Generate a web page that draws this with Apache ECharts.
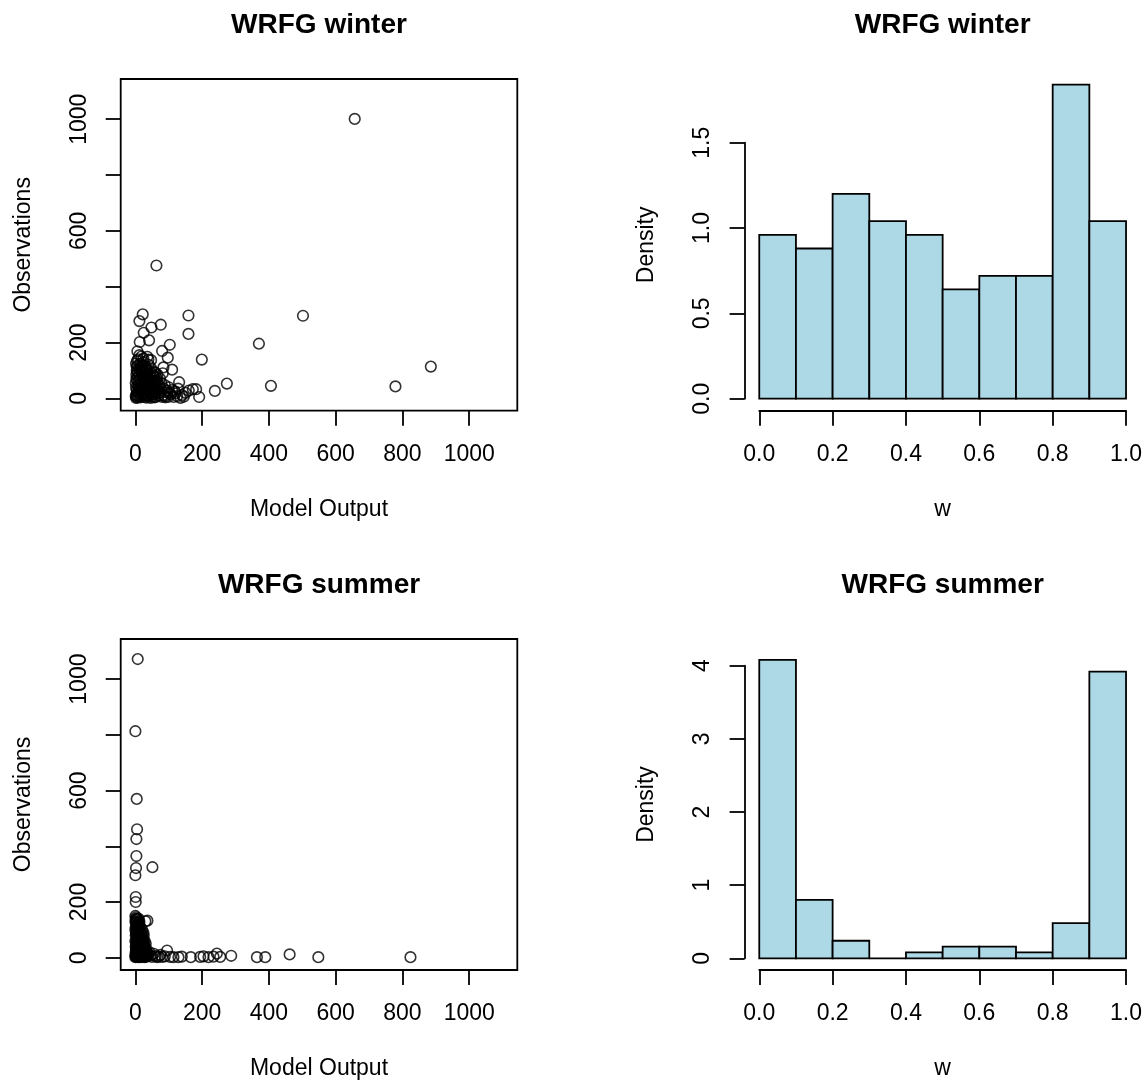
<!DOCTYPE html>
<html>
<head>
<meta charset="utf-8">
<script src="https://cdn.jsdelivr.net/npm/echarts@6/dist/echarts.min.js"></script>
<style>
html,body{margin:0;padding:0;background:#ffffff;}
#c{width:1147px;height:1086px;}
</style>
</head>
<body>
<div id="c"></div>
<script>
// ---------------- DATA ----------------
const winterModel = [657,63,22,159,502,12,76,48,159,25,370,103,41,13,6,80,97,36,47,199,84,110,18,4,885,131,274,406,779,238,172,182,191,24,39,
  150,140,125,118,105,98,135,145,110,92,88,120,160,128,100,
  2,5,8,10,12,15,3,6,9,14,18,20,22,25,27,30,32,35,38,40,42,45,48,50,52,55,58,60,62,65,
  20,28,15,8,25,30,35,45,55,68,70,72,75,78,80,85,4,1,3,16,24,33,44,53,60,66,12,7,2,40,18,10,36,46,57,64,74,82,88,95,11,26,34,49,61,
  1,3,6,9,13,17,21,23,29,31,37,39,43,47,51,54,56,59,63,67,5,8,11,14,19,24,29,34,41,47,2,4,7,16,26,32,44,52,58,69,76,83,90,102,115,5,12,22,31,38];
const winterObs = [1001,476,301,297,296,277,264,254,231,235,196,192,208,202,169,170,146,149,137,139,111,103,118,113,114,58,53,45,43,27,33,33,5,143,139,
  20,12,8,25,15,5,2,6,30,22,8,18,28,35,40,
  2,10,20,35,50,70,85,95,60,28,12,45,80,5,30,60,18,90,40,8,70,25,55,12,85,35,4,48,20,65,
  100,105,125,140,130,115,100,95,78,30,10,45,22,55,5,35,30,55,70,4,15,3,50,62,92,85,110,45,125,120,150,8,75,2,15,40,70,90,48,28,18,62,28,38,5,
  8,15,3,25,40,55,20,38,10,48,12,58,35,80,22,50,95,30,75,55,65,78,88,100,92,72,82,65,85,108,40,100,118,108,50,38,15,5,62,18,35,12,4,20,5,135,155,118,92,25];

const summerModel = [7,0,4,5,3,3,2,0,51,1,1,30,0,36,
  95,104,114,129,139,166,194,204,219,234,244,254,287,364,389,462,548,824,
  88,80,75,70,65,60,55,50,45,42,
  0,1,2,3,4,5,6,7,8,9,10,11,12,13,14,15,1,2,3,4,5,6,7,8,9,2,3,5,20,25,30,35,22,28,18,24,16,20,27,32,12,10,1,2,6,15,18,26,33,38,11,14,17,4,7,10,1,0,21,23,
  3,5,8,12,16,19,13,9,6,0,2,4,29,31,24,
  0,1,2,3,4,5,6,7,8,9,10,11,0,1,2,3,4,12,14,16,18,20,22,24,26,28,30,32,34,13,15,17,19,21,6,8,10,25,27,31];
const summerObs = [1072,813,570,461,426,365,322,296,325,218,200,131,150,133,
  26,3,2,2,4,2,3,5,2,4,15,3,7,2,2,12,2,2,
  5,3,10,4,2,6,14,3,8,20,
  2,5,10,15,20,25,30,35,40,45,50,55,60,65,70,75,80,85,90,95,100,105,110,115,120,125,135,140,5,10,15,20,30,3,45,55,85,100,40,8,130,95,40,60,12,2,18,22,4,12,8,35,60,50,75,120,110,100,75,65,
  3,6,2,4,10,28,50,78,140,60,30,7,28,50,90,
  10,20,35,45,55,65,75,85,95,105,115,125,130,140,145,100,110,20,40,50,70,88,10,30,45,60,8,25,15,95,110,5,38,55,120,130,140,80,2,35];

const binEdges = [0,0.1,0.2,0.3,0.4,0.5,0.6,0.7,0.8,0.9,1.0];
const winterDensity = [0.96,0.88,1.20,1.04,0.96,0.64,0.72,0.72,1.84,1.04];
const summerDensity = [4.08,0.80,0.24,0,0.08,0.16,0.16,0.08,0.48,3.92];

const scatterTicks = [0,200,400,600,800,1000];
const scatterXLabels = [0,200,400,600,800,1000];
const scatterYLabels = [0,200,600,1000];
const scatterLim = [0,1100];

const titles = ['WRFG winter','WRFG winter','WRFG summer','WRFG summer'];

// ---------------- STYLE / LAYOUT ----------------
const FONT = '"Liberation Sans", Arial, Helvetica, sans-serif';
const FS = 23;
const LW = 1.8;
const rows = [{top:79, height:331.7}, {top:639, height:331}];
const SC = {left:120.7, width:396.6};
const HI = {left:744.6, width:396.1};
const HX = {left:759.3, width:366.7};
const HY = [{top:142.7, height:256}, {top:665.7, height:292.6}];
const histYRange = [[-0.0703, 1.873], [-0.16, 4.365]];
const histYTick = [{max:1.5, interval:0.5, dec:1}, {max:4, interval:1, dec:0}];

const pad = 0.04 * (scatterLim[1] - scatterLim[0]);
const sMin = scatterLim[0] - pad, sMax = scatterLim[1] + pad;

const txt = {color:'#000', fontFamily:FONT, fontSize:FS};
const hidden = {show:false};

const grids = [], xAxes = [], yAxes = [], series = [], titleList = [];

rows.forEach((r, i) => {
  const season = i === 0 ? {m:winterModel, o:winterObs, d:winterDensity} : {m:summerModel, o:summerObs, d:summerDensity};
  const gS = grids.length;
  grids.push({left:SC.left, top:r.top, width:SC.width, height:r.height, show:true,
    borderColor:'#000', borderWidth:LW, backgroundColor:'transparent'});
  xAxes.push({type:'value', gridIndex:gS, min:sMin, max:sMax,
    name:'Model Output', nameLocation:'middle', nameGap:87, nameTextStyle:txt,
    axisLine:{show:false, onZero:false},
    axisTick:{show:true, inside:false, length:15, customValues:scatterTicks, lineStyle:{color:'#000', width:LW}},
    axisLabel:{show:true, margin:32.5, customValues:scatterXLabels, formatter:v => String(v), ...txt},
    splitLine:hidden});
  yAxes.push({type:'value', gridIndex:gS, min:sMin, max:sMax,
    name:'Observations', nameLocation:'middle', nameGap:85.5, nameRotate:90, nameTextStyle:txt,
    axisLine:{show:false, onZero:false},
    axisTick:{show:true, inside:false, length:15, customValues:scatterTicks, lineStyle:{color:'#000', width:LW}},
    axisLabel:{show:true, margin:30, rotate:90, customValues:scatterYLabels, formatter:v => String(v), ...txt},
    splitLine:hidden});
  series.push({type:'scatter', xAxisIndex:gS, yAxisIndex:gS, symbol:'circle', symbolSize:10.6,
    itemStyle:{color:'rgba(0,0,0,0)', borderColor:'#000', borderWidth:1.6},
    emphasis:{disabled:true}, silent:true,
    data: season.m.map((v, k) => [v, season.o[k]])});

  const gH = grids.length;
  grids.push({left:HI.left, top:r.top, width:HI.width, height:r.height});
  xAxes.push({type:'value', gridIndex:gH, min:-0.04, max:1.04,
    name:'w', nameLocation:'middle', nameGap:87, nameTextStyle:txt,
    axisLine:{show:false, onZero:false}, axisTick:hidden, axisLabel:hidden, splitLine:hidden});
  yAxes.push({type:'value', gridIndex:gH, min:histYRange[i][0], max:histYRange[i][1],
    name:'Density', nameLocation:'middle', nameGap:86, nameRotate:90, nameTextStyle:txt,
    axisLine:{show:false, onZero:false}, axisTick:hidden, axisLabel:hidden, splitLine:hidden});
  series.push({type:'custom', xAxisIndex:gH, yAxisIndex:gH, silent:true,
    encode:{x:[0,1], y:2},
    data: season.d.map((d, k) => [binEdges[k], binEdges[k+1], d]),
    renderItem: function(params, api){
      const p0 = api.coord([api.value(0), 0]);
      const p1 = api.coord([api.value(1), api.value(2)]);
      return {type:'rect', shape:{x:p0[0], y:p1[1], width:p1[0]-p0[0], height:p0[1]-p1[1]},
        style:{fill:'#ADD8E6', stroke:'#000', lineWidth:LW}};
    }});

  const gX = grids.length;
  grids.push({left:HX.left, top:r.top, width:HX.width, height:r.height});
  xAxes.push({type:'value', gridIndex:gX, min:0, max:1, interval:0.2,
    axisLine:{show:true, onZero:false, lineStyle:{color:'#000', width:LW}},
    axisTick:{show:true, inside:false, length:15, lineStyle:{color:'#000', width:LW}},
    axisLabel:{show:true, margin:32, formatter:v => v.toFixed(1), showMinLabel:true, showMaxLabel:true, ...txt},
    splitLine:hidden});
  yAxes.push({type:'value', gridIndex:gX, min:0, max:1, show:false});

  const gY = grids.length;
  grids.push({left:HI.left, top:HY[i].top, width:HI.width, height:HY[i].height});
  xAxes.push({type:'value', gridIndex:gY, min:0, max:1, show:false});
  yAxes.push({type:'value', gridIndex:gY, min:0, max:histYTick[i].max, interval:histYTick[i].interval,
    axisLine:{show:true, onZero:false, lineStyle:{color:'#000', width:LW}},
    axisTick:{show:true, inside:false, length:15, lineStyle:{color:'#000', width:LW}},
    axisLabel:{show:true, margin:30.5, rotate:90, formatter:(v => v.toFixed(histYTick[i].dec)), showMinLabel:true, showMaxLabel:true, ...txt},
    splitLine:hidden});

  const tTop = r.top - 68;
  titleList.push({text:titles[i*2], left:SC.left + SC.width/2, top:tTop, textAlign:'center', padding:0,
    textStyle:{color:'#000', fontFamily:FONT, fontSize:28, fontWeight:'bold'}});
  titleList.push({text:titles[i*2+1], left:HI.left + HI.width/2, top:tTop, textAlign:'center', padding:0,
    textStyle:{color:'#000', fontFamily:FONT, fontSize:28, fontWeight:'bold'}});
});

const chart = echarts.init(document.getElementById('c'), null, {renderer:'canvas'});
chart.setOption({
  animation:false,
  backgroundColor:'#ffffff',
  title:titleList,
  grid:grids,
  xAxis:xAxes,
  yAxis:yAxes,
  series:series
});
</script>
</body>
</html>
